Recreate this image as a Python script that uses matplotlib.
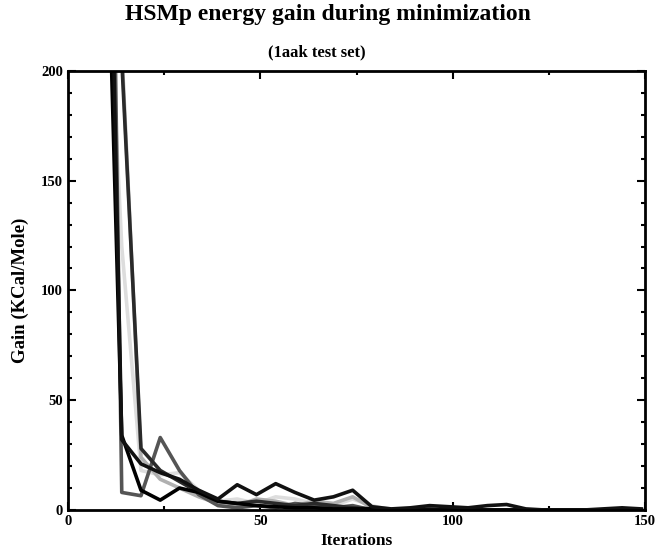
import matplotlib
matplotlib.use('Agg')
import matplotlib.pyplot as plt
from matplotlib.ticker import MultipleLocator

plt.rcParams['font.family'] = ['Liberation Serif', 'DejaVu Serif']
plt.rcParams['font.weight'] = 'bold'

# iterations sampled every 5 steps
iters = [9, 14, 19, 24, 29, 34, 39, 44, 49, 54, 59, 64, 69, 74, 79,
         84, 89, 94, 99, 104, 109, 114, 119, 124, 129, 134, 139, 144, 149]

gain_a = [350, 34, 9, 4.5, 10, 8, 4, 3, 2, 1.5, 1, 1, 0.5, 0.5, 0.5,
          0, 0, 0, 0, 0, 0, 0, 0, 0, 0, 0, 0, 0, 0]
gain_b = [450, 32, 21, 17, 14, 9, 5, 11.5, 7, 12, 8, 4.5, 6, 9, 1.5,
          0.5, 1, 2, 1.5, 1, 2, 2.5, 0.5, 0, 0, 0, 0.5, 1, 0.5]
gain_c = [500, 205, 28, 18, 13, 8, 4, 3, 4, 3, 2, 3, 2, 1, 0.5,
          0, 0, 0.5, 0, 0, 0, 0, 0, 0, 0, 0, 0, 0, 0]
gain_d = [600, 8, 6.5, 33, 18, 7, 2, 1, 2, 1, 3, 2, 1, 2, 0,
          0, 0, 0, 0, 0, 0, 0, 0, 0, 0, 0, 0, 0, 0]
gain_e = [400, 210, 24, 14, 10, 6, 3, 2, 5, 4, 2, 4, 3, 6, 1,
          0.5, 0, 0, 0, 0, 0, 0, 0, 0, 0, 0, 0, 0, 0]
gain_f = [300, 120, 18, 16, 17, 9, 4, 5, 3, 6, 5, 3, 2, 5, 2,
          0, 0, 0, 0, 0, 0, 0, 0, 0, 0, 0, 0, 0, 0]

series = [gain_f, gain_e, gain_d, gain_c, gain_a, gain_b]
colors = ['#dddddd', '#b0b0b0', '#555555', '#2a2a2a', '#000000', '#111111']

fig = plt.figure(figsize=(6.59, 5.51), dpi=100)
ax = fig.add_axes([0.103, 0.0744, 0.876, 0.797])

for vals, c in zip(series, colors):
    ax.plot(iters, vals, color=c, lw=2.6)

ax.set_xlim(0, 150)
ax.set_ylim(0, 200)
ax.xaxis.set_major_locator(MultipleLocator(50))
ax.xaxis.set_minor_locator(MultipleLocator(25))
ax.yaxis.set_major_locator(MultipleLocator(50))
ax.yaxis.set_minor_locator(MultipleLocator(10))
ax.tick_params(which='both', direction='in', top=True, right=True, labelsize=10.5, width=1.5)
ax.tick_params(which='major', length=6)
ax.tick_params(which='minor', length=3)
for s in ax.spines.values():
    s.set_linewidth(2)

ax.set_xlabel('Iterations', fontsize=12.5, fontweight='bold', labelpad=4)
ax.set_ylabel('Gain (KCal/Mole)', fontsize=13.5, fontweight='bold', labelpad=9)

fig.text(0.497, 0.973, 'HSMp energy gain during minimization', ha='center', va='center',
         fontsize=17, fontweight='bold')
fig.text(0.48, 0.905, '(1aak test set)', ha='center', va='center',
         fontsize=12, fontweight='bold')

plt.savefig('out.png', dpi=100)
